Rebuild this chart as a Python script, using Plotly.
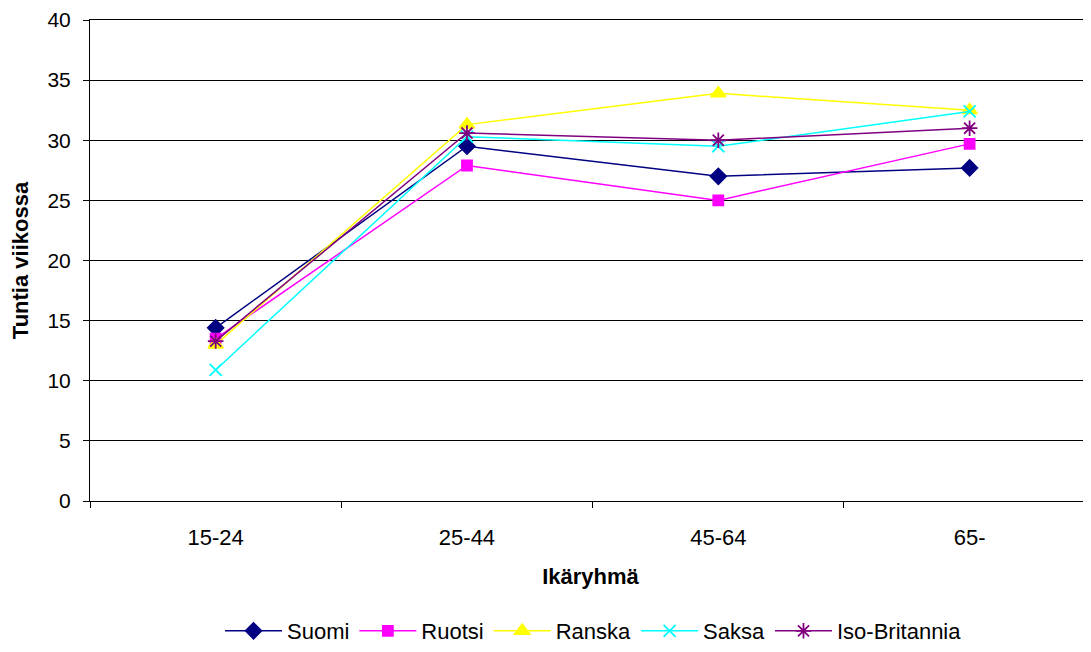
import plotly.graph_objects as go

categories = ["15-24", "25-44", "45-64", "65-"]
suomi = [14.4, 29.5, 27.0, 27.7]
ruotsi = [13.5, 27.9, 25.0, 29.7]
ranska = [13.0, 31.3, 33.9, 32.5]
saksa = [10.9, 30.3, 29.5, 32.4]
iso_britannia = [13.3, 30.6, 30.0, 31.0]

series = [
    ("Suomi", suomi, "#000080", "diamond", 12),
    ("Ruotsi", ruotsi, "#FF00FF", "square", 10),
    ("Ranska", ranska, "#FFFF00", "triangle-up", 13),
    ("Saksa", saksa, "#00FFFF", "x-thin-open", 12),
    ("Iso-Britannia", iso_britannia, "#800080", "asterisk-open", 13),
]

fig = go.Figure()
for name, vals, color, sym, size in series:
    fig.add_trace(go.Scatter(
        x=categories, y=vals, name=name, mode="lines+markers",
        line=dict(color=color, width=1.5),
        marker=dict(symbol=sym, size=size, color=color,
                    line=dict(color=color, width=1.8)),
    ))

FONT = "Liberation Sans, Arial, sans-serif"
fig.update_layout(
    width=1083, height=636,
    margin=dict(l=82, r=0, t=12, b=143, autoexpand=False),
    paper_bgcolor="white", plot_bgcolor="white",
    font=dict(family=FONT, size=22, color="black"),
    showlegend=True,
    legend=dict(orientation="h", x=0.503, xanchor="center", y=-0.2703, yanchor="middle",
                font=dict(size=22), traceorder="normal", itemwidth=57),
)
fig.update_xaxes(
    type="category", range=[-0.5, 3.483], automargin=False,
    showline=True, linecolor="black", linewidth=1, mirror=True,
    ticks="outside", ticklen=6, tickcolor="black", tickson="boundaries",
    ticklabelstandoff=17,
    showgrid=False,
    title=dict(text="<b>Ikäryhmä</b>", font=dict(size=22), standoff=19),
)
fig.update_yaxes(
    range=[0, 40], dtick=5, automargin=False,
    showline=True, linecolor="black", linewidth=1,
    ticks="outside", ticklen=6, tickcolor="black",
    ticklabelstandoff=8, ticklabeloverflow="allow", tickfont=dict(size=21),
    showgrid=True, gridcolor="black", gridwidth=1,
    zeroline=False,
    title=dict(text="<b>Tuntia viikossa</b>", font=dict(size=22), standoff=15),
)

fig.write_html("out.html")
